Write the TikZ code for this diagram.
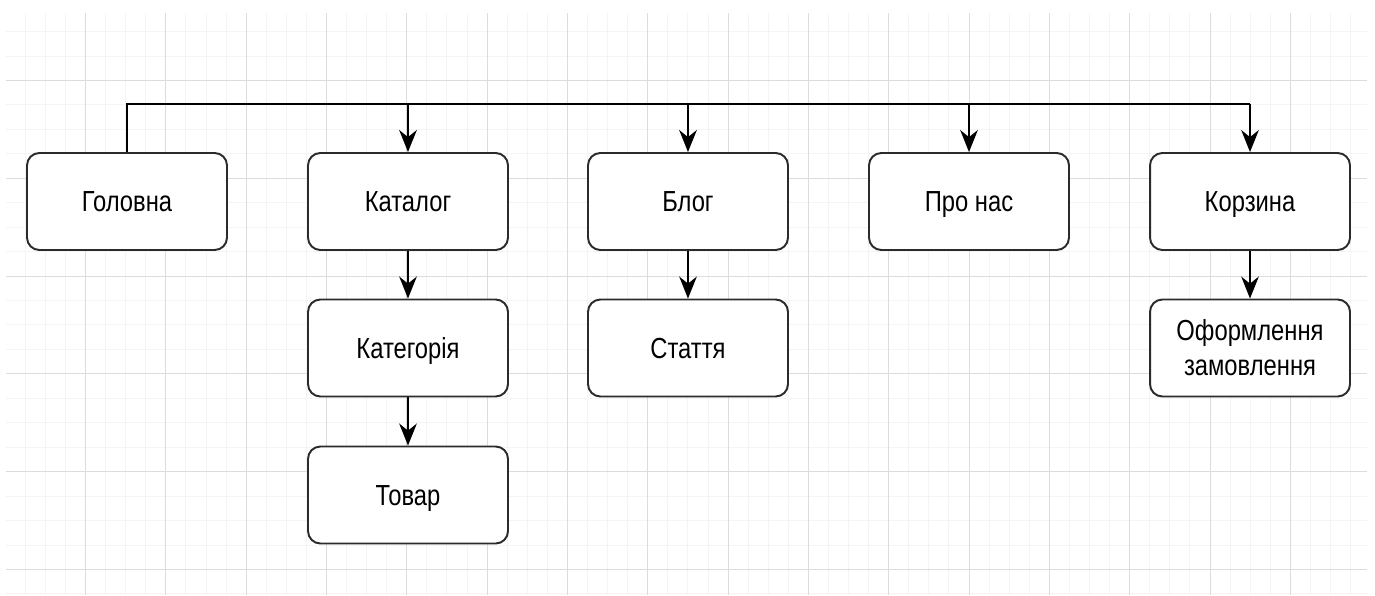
\documentclass[tikz,border=0pt]{standalone}
\usepackage{fontspec}
\newfontfamily\labelfont[FakeStretch=0.82]{Liberation Sans}
\usetikzlibrary{arrows.meta}
\definecolor{minorgrid}{HTML}{F4F4F4}
\definecolor{majorgrid}{HTML}{DCDCDC}
\definecolor{boxline}{HTML}{2B2B2B}
\tikzset{
  pagebox/.style={draw=boxline, line width=1.1pt, rounded corners=7pt, fill=white,
    minimum width=4cm, minimum height=1.94cm, inner sep=0pt, align=center,
    font=\labelfont\fontsize{16.5}{19.8}\selectfont,
    text height=15.2pt, text depth=3.3pt},
  twoline/.style={text height=, text depth=},
  link/.style={line width=1.3pt, -{Stealth[length=12.5pt,width=10pt,inset=4pt]}},
  bus/.style={line width=1.3pt},
  minorline/.style={draw=minorgrid, line width=0.6pt},
  majorline/.style={draw=majorgrid, line width=0.6pt}
}
\begin{document}
\begin{tikzpicture}[x=0.02cm,y=-0.02cm]
  % canvas
  \fill[white] (0,0) rectangle (1375,595);
  \useasboundingbox (0,0) rectangle (1375,595);

  % background grid, snapped to whole pixels
  \begin{scope}
    \clip (6,13) rectangle (1367,595);
    \foreach \k in {1,...,67} {
      \pgfmathsetmacro\gx{round(4.7+20.08*\k)+0.5}
      \draw[minorline] (\gx,13) -- (\gx,595);
    }
    \foreach \j in {-2,...,21} {
      \pgfmathsetmacro\gy{round(80+24.45*\j)+0.5}
      \draw[minorline] (6,\gy) -- (1367,\gy);
    }
    \foreach \k in {4,8,...,64} {
      \pgfmathsetmacro\gx{round(4.7+20.08*\k)+0.5}
      \draw[majorline] (\gx,13) -- (\gx,595);
    }
    \foreach \j in {0,4,...,20} {
      \pgfmathsetmacro\gy{round(80+24.45*\j)+0.5}
      \draw[majorline] (6,\gy) -- (1367,\gy);
    }
  \end{scope}

  % pages
  \node[pagebox] (home)    at (127,201.5)  {Головна};
  \node[pagebox] (catalog) at (408,201.5)  {Каталог};
  \node[pagebox] (blog)    at (688,201.5)  {Блог};
  \node[pagebox] (about)   at (969,201.5)  {Про нас};
  \node[pagebox] (cart)    at (1250,201.5) {Корзина};
  \node[pagebox] (category) at (408,348)   {Категорія};
  \node[pagebox] (product)  at (408,495)   {Товар};
  \node[pagebox] (article)  at (688,348)   {Стаття};
  \node[pagebox, twoline] (checkout) at (1250,348) {Оформлення\\замовлення};

  % top-level menu bus
  \coordinate (busline) at (0,104);
  \draw[bus] (home.north) |- (busline -| cart.north);
  \draw[link] (busline -| catalog.north) -- (catalog.north);
  \draw[link] (busline -| blog.north) -- (blog.north);
  \draw[link] (busline -| about.north) -- (about.north);
  \draw[link] (busline -| cart.north) -- (cart.north);

  % nested pages
  \draw[link] (catalog) -- (category);
  \draw[link] (category) -- (product);
  \draw[link] (blog) -- (article);
  \draw[link] (cart) -- (checkout);
\end{tikzpicture}
\end{document}
